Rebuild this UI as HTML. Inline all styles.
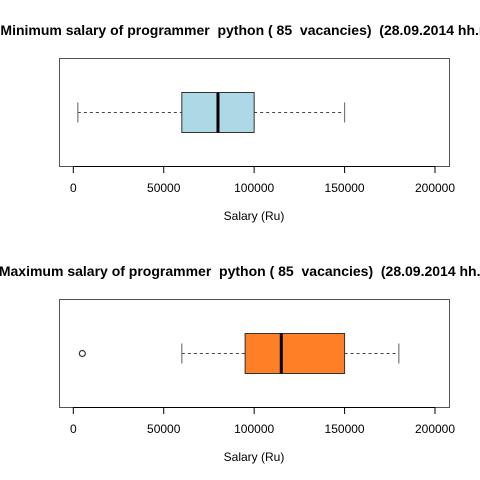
<!DOCTYPE html>
<html><head><meta charset="utf-8"><style>html,body{margin:0;padding:0;background:#fff;overflow:hidden}svg{display:block}text{white-space:pre}</style></head>
<body>
<svg id="c" width="480" height="480" xmlns="http://www.w3.org/2000/svg" font-family="Liberation Sans, sans-serif"></svg>
<script>
const ticks = [0, 50000, 100000, 150000, 200000];
const tickLabels = ["0", "50000", "100000", "150000", "200000"];
const titles = ["Minimum salary of programmer  python ( 85  vacancies)  (28.09.2014 hh.ru)",
                "Maximum salary of programmer  python ( 85  vacancies)  (28.09.2014 hh.ru)"];
const lowWhisker = [2500, 60000];
const q1 = [60000, 95000];
const median = [80000, 115000];
const q3 = [100000, 150000];
const highWhisker = [150000, 180000];
const outliers = [[], [5000]];
const fills = ["#add8e6", "#ff7f27"];
const names = ["min-salary", "max-salary"];

const svg = document.getElementById('c');
const NS = 'http://www.w3.org/2000/svg';
function mk(tag, attrs, parent) {
  const e = document.createElementNS(NS, tag);
  for (const k in attrs) e.setAttribute(k, attrs[k]);
  (parent || svg).appendChild(e);
  return e;
}
const x = v => 73.3 + v * (361.7 / 200000);

for (let p = 0; p < 2; p++) {
  const oy = p * 241;
  const g = mk('g', {});
  
  
  const t = mk('text', {x: 249, y: 35 + oy, 'text-anchor': 'middle', 'font-size': 14, 'font-weight': 'bold', fill: '#000'}, g);
  t.textContent = titles[p];
  
  
  const fr = mk('rect', {x: 59.5, y: 58.5 + oy, width: 390, height: 108, fill: 'none', stroke: '#555', 'stroke-width': 1}, g);
  
  
  const cy = 112.5 + oy;
  const wl = mk('line', {x1: x(lowWhisker[p]), x2: x(q1[p]), y1: cy, y2: cy, stroke: '#444', 'stroke-dasharray': '3,3'}, g);
  
  
  const wh = mk('line', {x1: x(q3[p]), x2: x(highWhisker[p]), y1: cy, y2: cy, stroke: '#444', 'stroke-dasharray': '3,3'}, g);
  
  
  [lowWhisker[p], highWhisker[p]].forEach(v => {
    const c = mk('line', {x1: x(v), x2: x(v), y1: cy - 10, y2: cy + 10, stroke: '#777', 'stroke-width': 1.2}, g);
    
    
  });
  const b = mk('rect', {x: x(q1[p]), y: 92.5 + oy, width: x(q3[p]) - x(q1[p]), height: 40, fill: fills[p], stroke: '#333', 'stroke-width': 1}, g);
  
  
  const m = mk('line', {x1: x(median[p]), x2: x(median[p]), y1: 92.5 + oy, y2: 132.5 + oy, stroke: '#000', 'stroke-width': 3}, g);
  
  
  outliers[p].forEach(v => {
    const o = mk('circle', {cx: x(v), cy: cy, r: 3, fill: 'none', stroke: '#333', 'stroke-width': 1.2}, g);
    
    
  });
  const ax = mk('line', {x1: x(ticks[0]), x2: x(ticks[ticks.length - 1]), y1: 166.5 + oy, y2: 166.5 + oy, stroke: '#000'}, g);
  
  
  ticks.forEach((v, i) => {
    const tk = mk('line', {x1: x(v), x2: x(v), y1: 166.5 + oy, y2: 173 + oy, stroke: '#000'}, g);
    
    
    const tl = mk('text', {x: x(v), y: 192 + oy, 'text-anchor': 'middle', 'font-size': 12, fill: '#000'}, g);
    tl.textContent = tickLabels[i];
    
    
  });
  const at = mk('text', {x: 254, y: 220 + oy, 'text-anchor': 'middle', 'font-size': 12, fill: '#000'}, g);
  at.textContent = 'Salary (Ru)';
  
  
}
</script>
</body></html>
